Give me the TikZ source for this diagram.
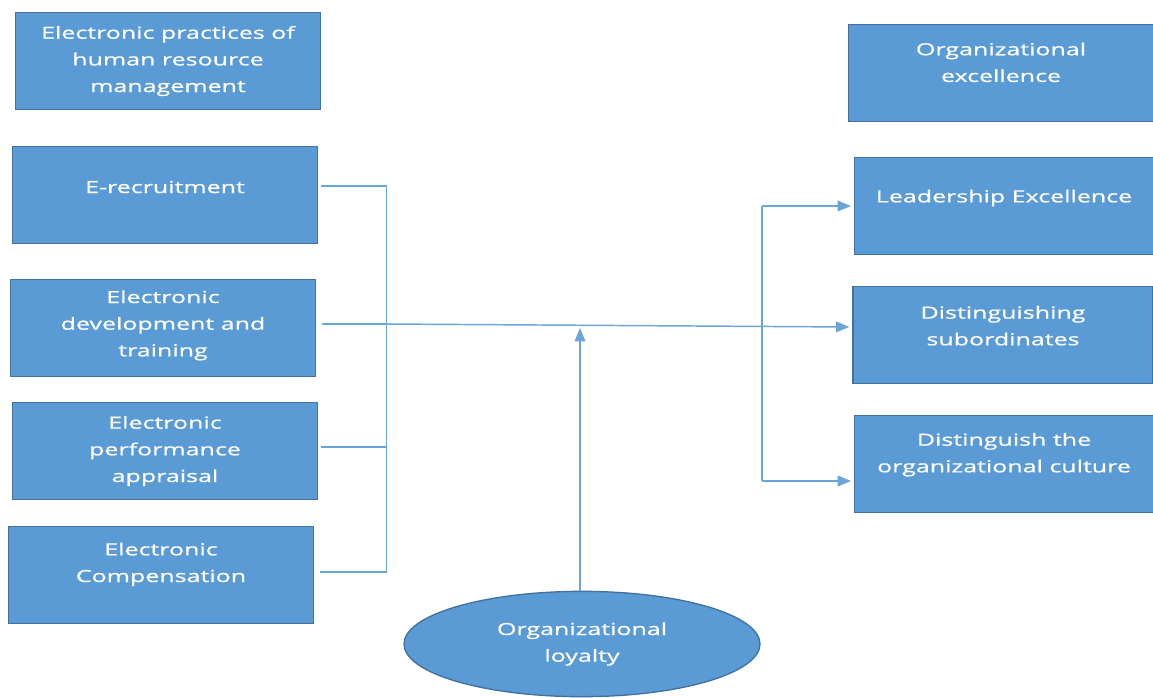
\documentclass[tikz,border=0pt]{standalone}
\usepackage{fontspec}
\setmainfont{Open Sans}[FakeStretch=1.5, FakeBold=0.7]
\usetikzlibrary{shapes.geometric, arrows.meta, calc}

\definecolor{boxblue}{HTML}{5B9BD5}
\definecolor{boxedge}{HTML}{41719C}
\definecolor{linkblue}{HTML}{6AA5DA}

\tikzset{
  box/.style={rectangle, draw=boxedge, line width=1pt, fill=boxblue,
    minimum width=229pt, minimum height=73pt, inner sep=0pt},
  boxtext/.style={text=white, align=center, inner sep=0pt,
    font=\fontsize{12.5}{20}\selectfont},
  loyalty/.style={ellipse, draw=boxedge, line width=1pt, fill=boxblue,
    text=white, align=center, font=\fontsize{12.5}{20}\selectfont,
    minimum width=267pt, minimum height=79pt, inner sep=0pt},
  link/.style={draw=linkblue, line width=1.1pt},
  arr/.style={link, -{Triangle[length=10pt,width=8pt]}}
}

\begin{document}
\begin{tikzpicture}[x=0.75pt, y=-0.75pt]
\useasboundingbox (0,0) rectangle (1153,697);
% left column
\node[box, label={[boxtext]center:Electronic practices of\\human resource\\management}] (hrm) at (168,61) {};
\node[box, label={[boxtext, yshift=6pt]center:E-recruitment}] (recruit) at (165,195) {};
\node[box, label={[boxtext, yshift=2pt]center:Electronic\\development and\\training}] (develop) at (163,328) {};
\node[box, label={[boxtext]center:Electronic\\performance\\appraisal}] (appraise) at (165,451) {};
\node[box, label={[boxtext, yshift=8pt]center:Electronic\\Compensation}] (compens) at (161,575) {};
% right column
\node[box, label={[boxtext, yshift=8pt]center:Organizational\\excellence}] (excel) at (1001,73) {};
\node[box, minimum width=224pt, label={[boxtext, yshift=6pt]center:Leadership Excellence}] (leader) at (1004,206) {};
\node[box, minimum width=225pt, label={[boxtext, yshift=7pt]center:Distinguishing\\subordinates}] (subord) at (1003,335) {};
\node[box, minimum width=224pt, label={[boxtext, yshift=7pt]center:Distinguish the\\organizational culture}] (culture) at (1004,464) {};
% bottom
\node[loyalty] (loyal) at (582,644) {Organizational\\loyalty};

\coordinate (jl) at (386,324);
\coordinate (jr) at (762,326);

% gather the practices
\draw[link] ($(recruit.east)+(3,-9)$) -| ($(compens.east)+(72,-3)$) -- ($(compens.east)+(6,-3)$);
\draw[link] ($(develop.east)+(6,-4)$) -- (jl);
\draw[link] ($(appraise.east)+(3,-4)$) -- ($(appraise.east)+(68,-4)$);
% on to excellence
\draw[arr] (jl) -- ($(subord.west)+(-3,-8)$);
\draw[link] (762,206) -- (762,481);
\draw[arr] (762,206) -- ($(leader.west)+(-3,0)$);
\draw[arr] (762,481) -- ($(culture.west)+(-3,17)$);
% loyalty
\draw[arr] (loyal.north -| 580,0) -- (580,328);
\end{tikzpicture}
\end{document}
